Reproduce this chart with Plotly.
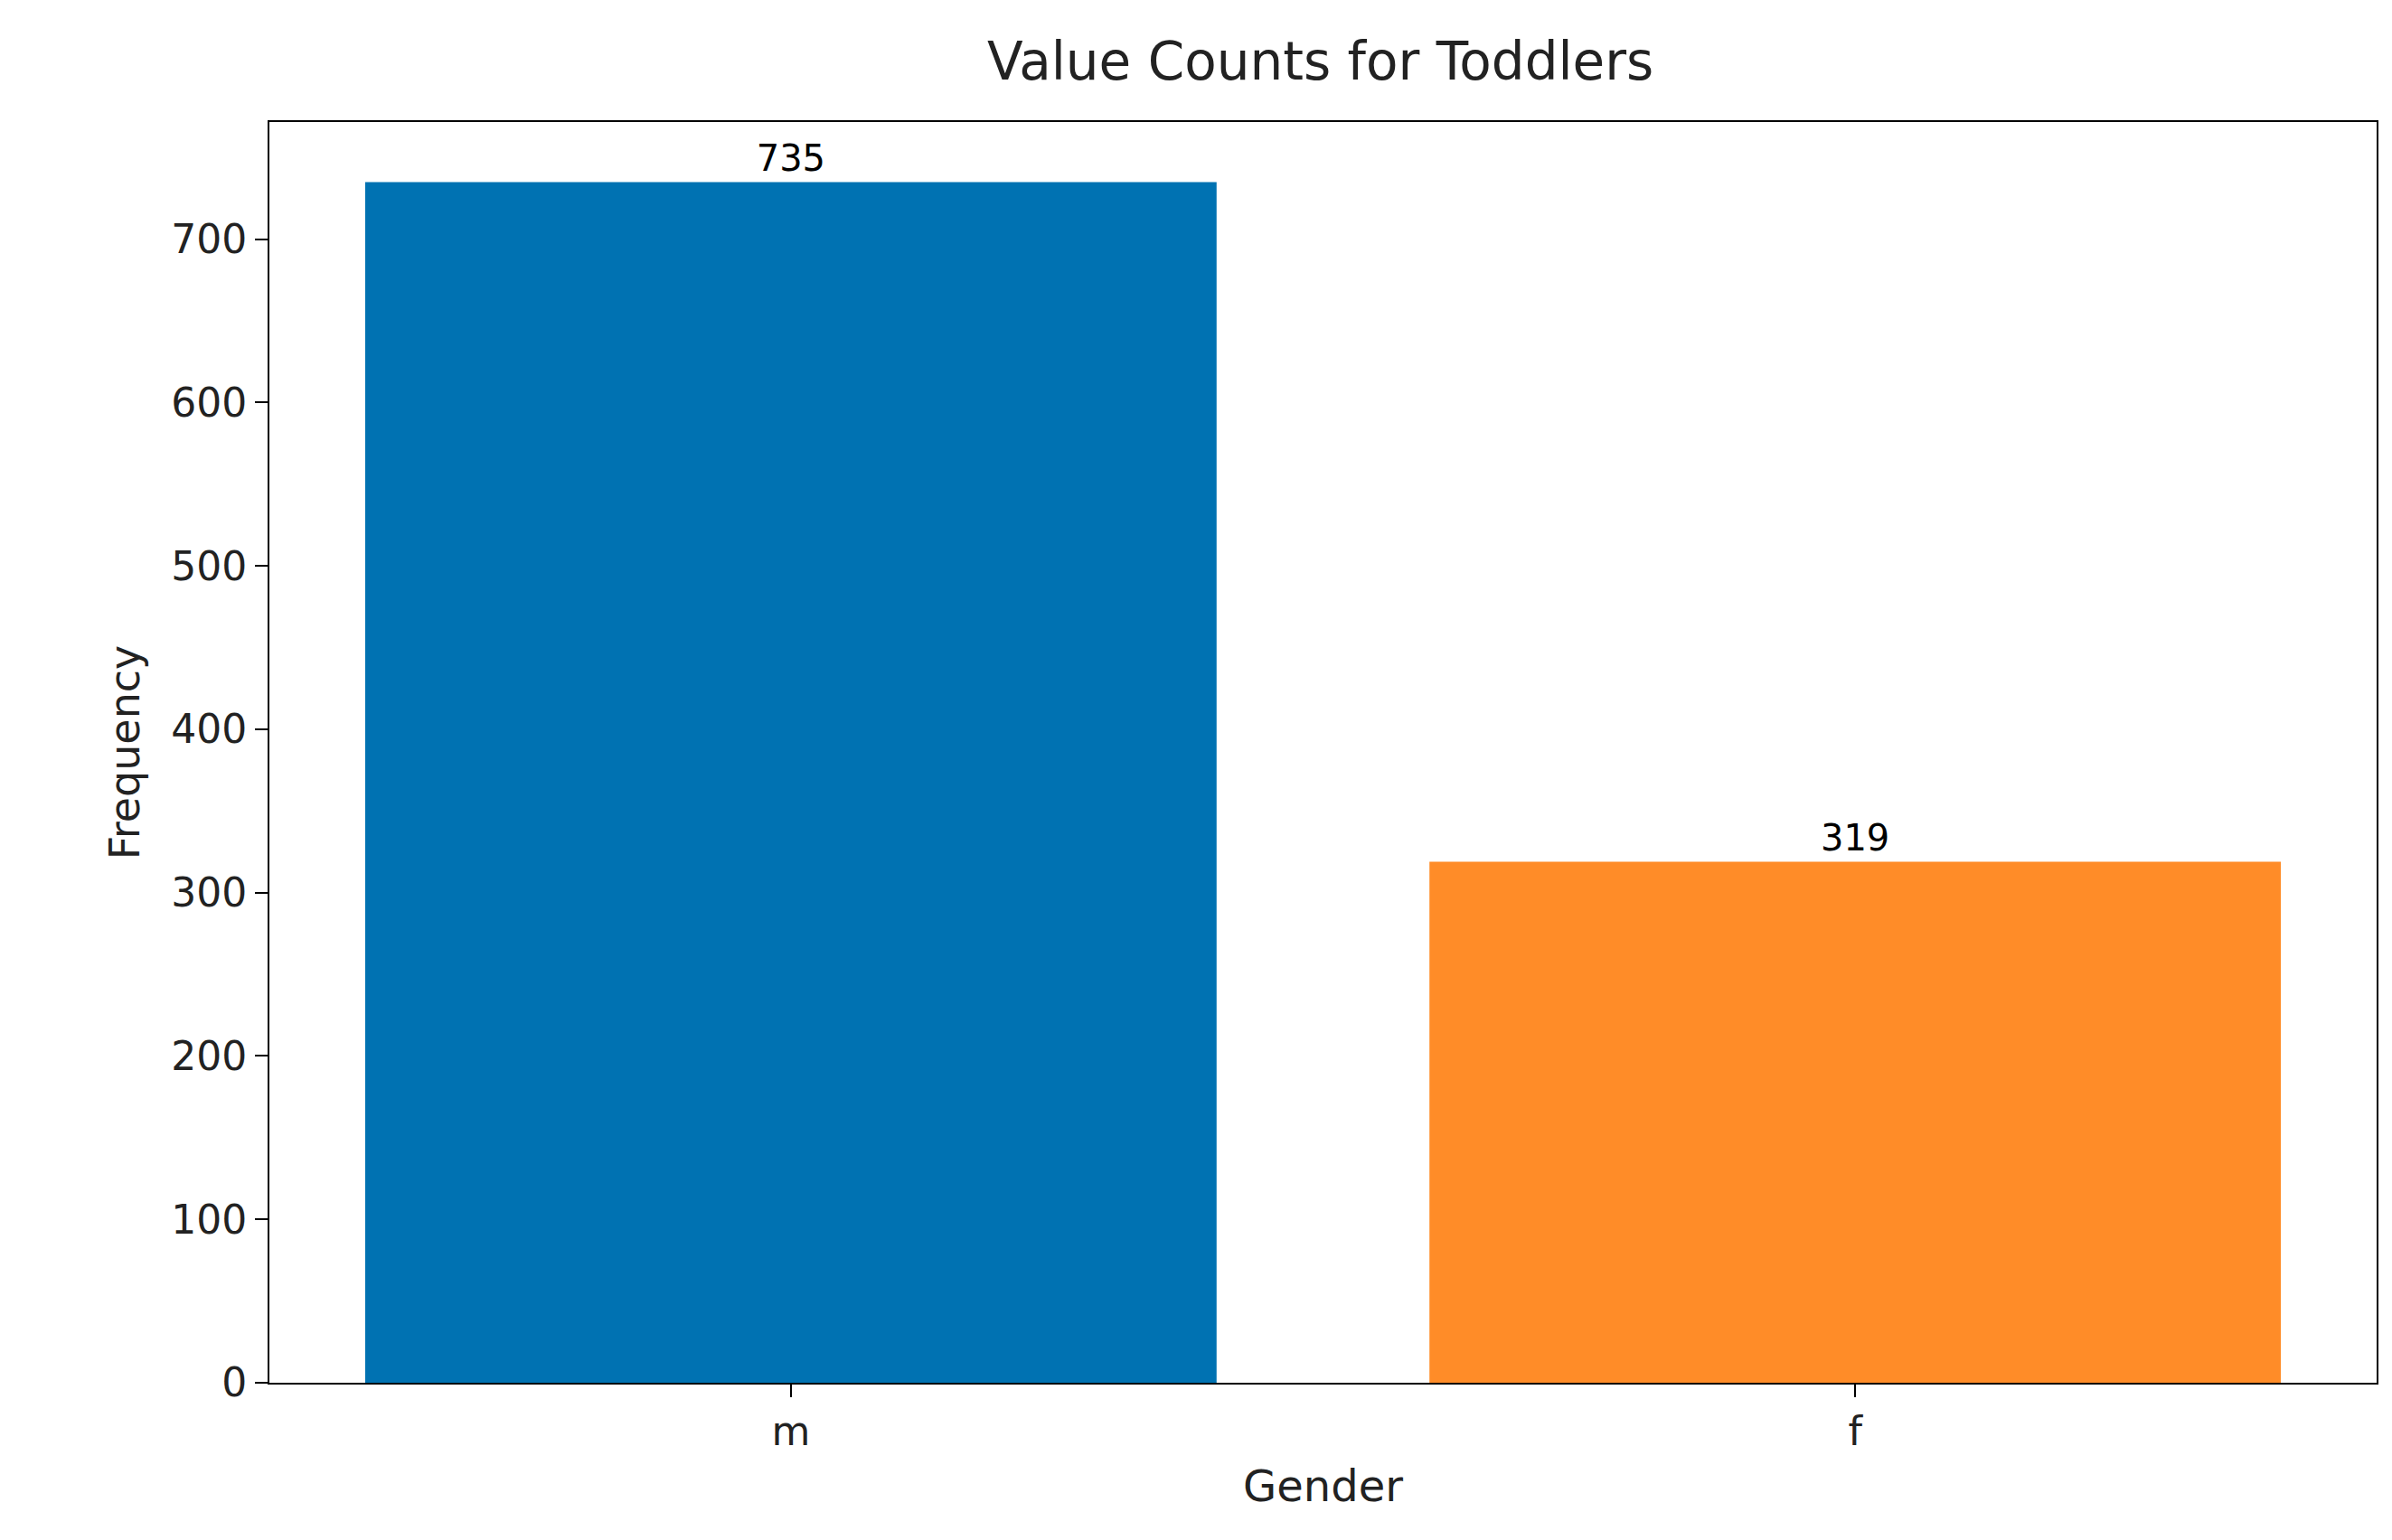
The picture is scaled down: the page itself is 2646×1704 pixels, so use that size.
import plotly.graph_objects as go

categories = ["m", "f"]
counts = [735, 319]
colors = ["#0072B2", "#FF8C28"]

fig = go.Figure(go.Bar(
    x=[0, 1], y=counts, width=0.8, marker_color=colors, marker_line_width=0,
    text=[str(c) for c in counts], textposition="outside", cliponaxis=False,
    textfont=dict(size=40, color="black", family="DejaVu Sans"),
))
fig.update_layout(
    width=2646, height=1704, paper_bgcolor="white", plot_bgcolor="white",
    margin=dict(l=290, r=25, t=127, b=182),
    font=dict(family="DejaVu Sans", color="#222"),
    title=dict(text="Value Counts for Toddlers", x=0.549, xanchor="center", y=0.977, yanchor="top",
               font=dict(size=58, color="#222")),
    showlegend=False,
)
axis_common = dict(showline=True, linecolor="black", linewidth=2, mirror=True, showgrid=False,
                   zeroline=False, ticks="outside", ticklen=14, tickwidth=2, tickcolor="black",
                   tickfont=dict(size=44, color="#222"))
fig.update_xaxes(range=[-0.49, 1.49], tickvals=[0, 1], ticktext=categories,
                 title=dict(text="Gender", font=dict(size=48, color="#222"), standoff=20), **axis_common)
fig.update_yaxes(range=[0, 771.75], tickvals=[0, 100, 200, 300, 400, 500, 600, 700],
                 title=dict(text="Frequency", font=dict(size=46, color="#222"), standoff=20), **axis_common)
fig.write_html("out.html")
